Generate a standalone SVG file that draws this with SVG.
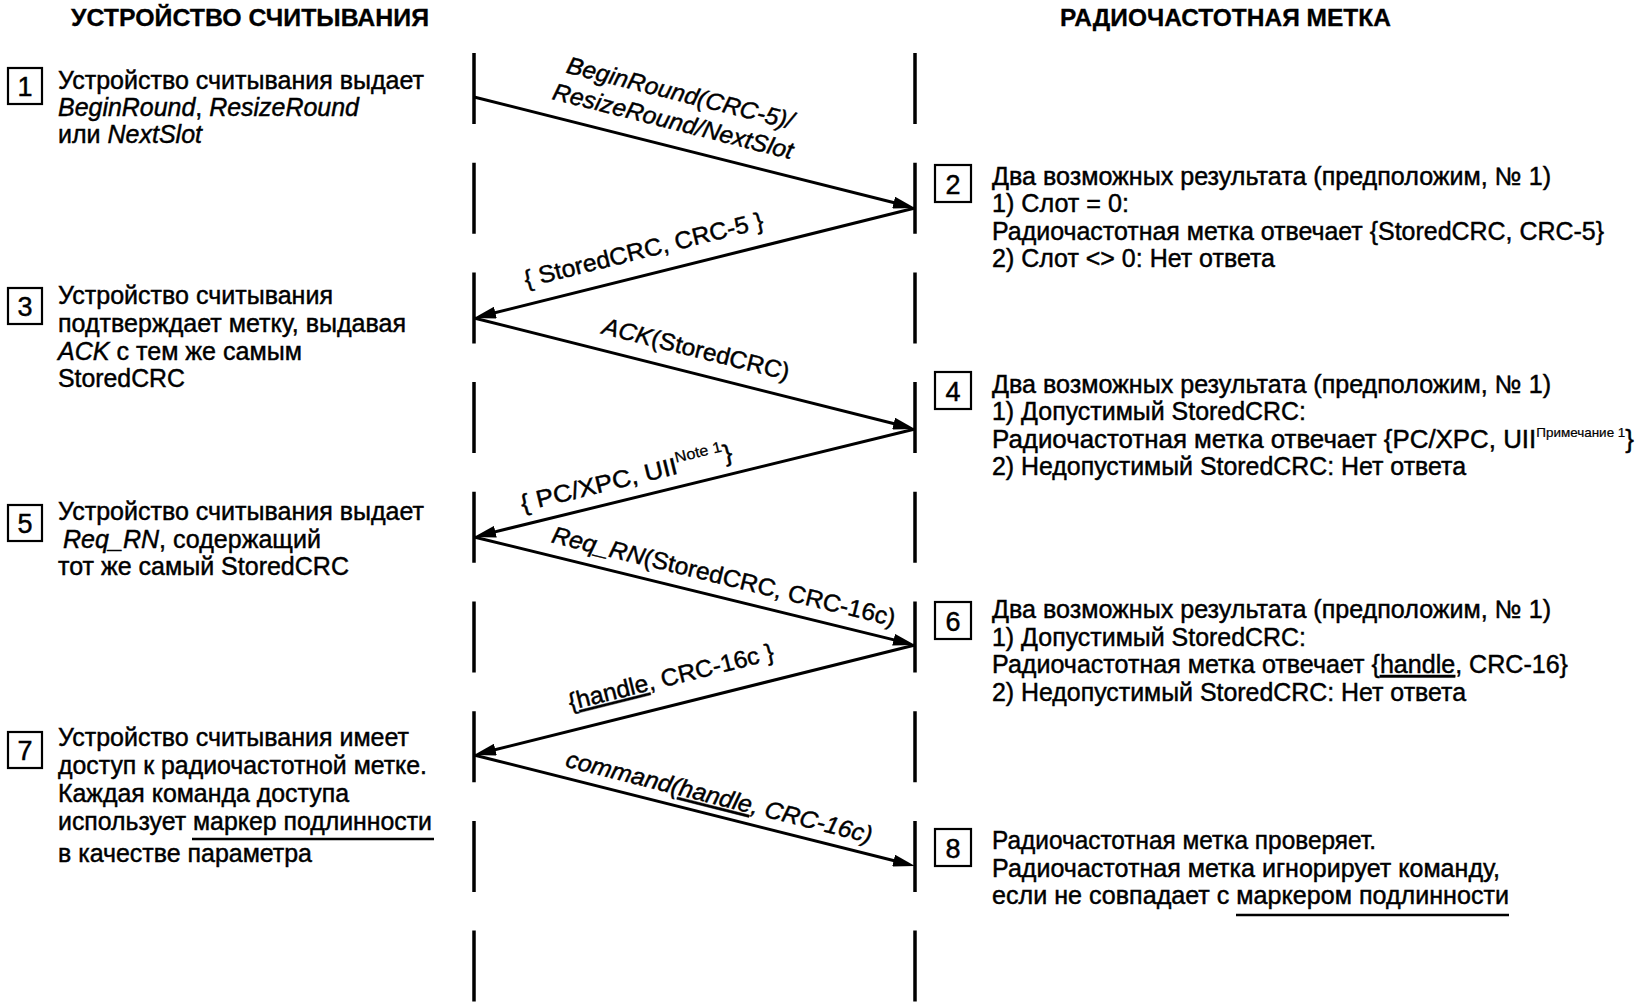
<svg xmlns="http://www.w3.org/2000/svg" width="1642" height="1005" viewBox="0 0 1642 1005">
<style>
.t{font-family:"Liberation Sans",Arial,sans-serif;font-size:25px;fill:#000;stroke:#000;stroke-width:0.45px}
.h{font-weight:bold;font-size:24.5px;stroke-width:0.3px}
.i{font-style:italic}
.box{fill:none;stroke:#000;stroke-width:2.2}
.num{font-size:27px;text-anchor:middle}
.life{stroke:#000;stroke-width:3.5;stroke-dasharray:71 38.7;fill:none}
.msg{stroke:#000;stroke-width:3;fill:none;marker-end:url(#ah)}
.lbl{font-size:24px;text-anchor:middle}
.ul{stroke:#000;stroke-width:2.5}
.u{text-decoration:underline}
</style>
<defs>
<marker id="ah" markerUnits="userSpaceOnUse" markerWidth="22" markerHeight="12" viewBox="0 0 22 12" refX="12" refY="6" orient="auto">
<path d="M0,0 L22,6 L0,12 Z" fill="#000"/>
</marker>
</defs>
<rect width="1642" height="1005" fill="#fff"/>

<g id="header-reader"><text class="t h" x="71" y="26" textLength="358" lengthAdjust="spacingAndGlyphs">УСТРОЙСТВО СЧИТЫВАНИЯ</text></g>
<g id="header-tag"><text class="t h" x="1060" y="26" textLength="331" lengthAdjust="spacingAndGlyphs">РАДИОЧАСТОТНАЯ МЕТКА</text></g>

<g id="lifeline-reader"><line class="life" x1="474" y1="53" x2="474" y2="1003"/></g>
<g id="lifeline-tag"><line class="life" x1="915" y1="53" x2="915" y2="1003"/></g>

<g id="node1">
<rect class="box" x="8" y="68" width="34" height="36"/>
<text class="t num" x="25" y="96">1</text>
<text class="t" x="58" y="89" textLength="366" lengthAdjust="spacingAndGlyphs">Устройство считывания выдает</text>
<text class="t" x="58" y="116" textLength="301" lengthAdjust="spacingAndGlyphs"><tspan class="i">BeginRound</tspan>, <tspan class="i">ResizeRound</tspan></text>
<text class="t" x="58" y="143" textLength="144" lengthAdjust="spacingAndGlyphs">или <tspan class="i">NextSlot</tspan></text>
</g>

<g id="node2">
<rect class="box" x="935" y="165" width="36" height="37"/>
<text class="t num" x="953" y="194">2</text>
<text class="t" x="992" y="185" textLength="559" lengthAdjust="spacingAndGlyphs">Два возможных результата (предположим, № 1)</text>
<text class="t" x="992" y="212" textLength="137" lengthAdjust="spacingAndGlyphs">1) Слот = 0:</text>
<text class="t" x="992" y="239.5" textLength="612" lengthAdjust="spacingAndGlyphs">Радиочастотная метка отвечает {StoredCRC, CRC-5}</text>
<text class="t" x="992" y="267" textLength="283" lengthAdjust="spacingAndGlyphs">2) Слот &lt;&gt; 0: Нет ответа</text>
</g>

<g id="node3">
<rect class="box" x="8" y="288" width="34" height="36"/>
<text class="t num" x="25" y="316">3</text>
<text class="t" x="58" y="304" textLength="275" lengthAdjust="spacingAndGlyphs">Устройство считывания</text>
<text class="t" x="58" y="332" textLength="348" lengthAdjust="spacingAndGlyphs">подтверждает метку, выдавая</text>
<text class="t" x="58" y="360" textLength="244" lengthAdjust="spacingAndGlyphs"><tspan class="i">ACK</tspan> с тем же самым</text>
<text class="t" x="58" y="387" textLength="127" lengthAdjust="spacingAndGlyphs">StoredCRC</text>
</g>

<g id="node4">
<rect class="box" x="935" y="372" width="36" height="37"/>
<text class="t num" x="953" y="401">4</text>
<text class="t" x="992" y="393" textLength="559" lengthAdjust="spacingAndGlyphs">Два возможных результата (предположим, № 1)</text>
<text class="t" x="992" y="420" textLength="314" lengthAdjust="spacingAndGlyphs">1) Допустимый StoredCRC:</text>
<text class="t" x="992" y="448" textLength="642" lengthAdjust="spacingAndGlyphs">Радиочастотная метка отвечает {PC/XPC, UII<tspan font-size="13" stroke-width="0.2" dy="-11">Примечание 1</tspan><tspan dy="11">}</tspan></text>
<text class="t" x="992" y="475" textLength="474" lengthAdjust="spacingAndGlyphs">2) Недопустимый StoredCRC: Нет ответа</text>
</g>

<g id="node5">
<rect class="box" x="8" y="505" width="34" height="36"/>
<text class="t num" x="25" y="533">5</text>
<text class="t" x="58" y="520" textLength="366" lengthAdjust="spacingAndGlyphs">Устройство считывания выдает</text>
<text class="t" x="63" y="548" textLength="258" lengthAdjust="spacingAndGlyphs"><tspan class="i">Req_RN</tspan>, содержащий</text>
<text class="t" x="58" y="575" textLength="291" lengthAdjust="spacingAndGlyphs">тот же самый StoredCRC</text>
</g>

<g id="node6">
<rect class="box" x="935" y="602" width="36" height="37"/>
<text class="t num" x="953" y="631">6</text>
<text class="t" x="992" y="618" textLength="559" lengthAdjust="spacingAndGlyphs">Два возможных результата (предположим, № 1)</text>
<text class="t" x="992" y="646" textLength="314" lengthAdjust="spacingAndGlyphs">1) Допустимый StoredCRC:</text>
<text class="t" x="992" y="673" textLength="576" lengthAdjust="spacingAndGlyphs">Радиочастотная метка отвечает {<tspan class="u">handle</tspan>, CRC-16}</text>
<text class="t" x="992" y="701" textLength="474" lengthAdjust="spacingAndGlyphs">2) Недопустимый StoredCRC: Нет ответа</text>
</g>

<g id="node7">
<rect class="box" x="8" y="732" width="34" height="36"/>
<text class="t num" x="25" y="760">7</text>
<text class="t" x="58" y="746" textLength="351" lengthAdjust="spacingAndGlyphs">Устройство считывания имеет</text>
<text class="t" x="58" y="774" textLength="369" lengthAdjust="spacingAndGlyphs">доступ к радиочастотной метке.</text>
<text class="t" x="58" y="802" textLength="291" lengthAdjust="spacingAndGlyphs">Каждая команда доступа</text>
<text class="t" x="58" y="830" textLength="374" lengthAdjust="spacingAndGlyphs">использует маркер подлинности</text>
<line class="ul" x1="192" y1="839" x2="434" y2="839"/>
<text class="t" x="58" y="862" textLength="254" lengthAdjust="spacingAndGlyphs">в качестве параметра</text>
</g>

<g id="node8">
<rect class="box" x="935" y="829" width="36" height="37"/>
<text class="t num" x="953" y="858">8</text>
<text class="t" x="992" y="849" textLength="384" lengthAdjust="spacingAndGlyphs">Радиочастотная метка проверяет.</text>
<text class="t" x="992" y="877" textLength="508" lengthAdjust="spacingAndGlyphs">Радиочастотная метка игнорирует команду,</text>
<text class="t" x="992" y="904" textLength="517" lengthAdjust="spacingAndGlyphs">если не совпадает с маркером подлинности</text>
<line class="ul" x1="1236" y1="915" x2="1509" y2="915"/>
</g>

<g id="connectors">
<line class="msg" x1="474" y1="97" x2="905.3" y2="205.5"/>
<line class="msg" x1="915" y1="208" x2="483.7" y2="315.5"/>
<line class="msg" x1="474" y1="318" x2="905.3" y2="426.5"/>
<line class="msg" x1="915" y1="429" x2="483.7" y2="534.6"/>
<line class="msg" x1="474" y1="537" x2="905.3" y2="642.6"/>
<line class="msg" x1="915" y1="645" x2="483.7" y2="752.5"/>
<line class="msg" x1="474" y1="755" x2="905.3" y2="863.5"/>

<g transform="translate(474,97) rotate(14.13)">
<text class="t lbl i" x="199" y="-46" textLength="233" lengthAdjust="spacingAndGlyphs">BeginRound(CRC-5)/</text>
<text class="t lbl i" x="199" y="-17" textLength="247" lengthAdjust="spacingAndGlyphs">ResizeRound/NextSlot</text>
</g>
<g transform="translate(474,318) rotate(-14)">
<text class="t lbl" x="181" y="-17" textLength="246" lengthAdjust="spacingAndGlyphs">{ StoredCRC, CRC-5 }</text>
</g>
<g transform="translate(474,318) rotate(14.13)">
<text class="t lbl" x="223" y="-16" textLength="192" lengthAdjust="spacingAndGlyphs"><tspan class="i">ACK</tspan>(StoredCRC)</text>
</g>
<g transform="translate(474,537) rotate(-13.76)">
<text class="t lbl" x="162" y="-13" textLength="217" lengthAdjust="spacingAndGlyphs">{ PC/XPC, UII<tspan font-size="15" stroke-width="0.25" dy="-11">Note 1</tspan><tspan dy="11">}</tspan></text>
</g>
<g transform="translate(474,537) rotate(13.76)">
<text class="t lbl" x="252" y="-13" textLength="353" lengthAdjust="spacingAndGlyphs"><tspan class="i">Req_RN</tspan>(StoredCRC, CRC-16c)</text>
</g>
<g transform="translate(474,755) rotate(-14)">
<text class="t lbl" x="210" y="-20" textLength="211" lengthAdjust="spacingAndGlyphs">{<tspan class="u">handle</tspan>, CRC-16c }</text>
</g>
<g transform="translate(474,755) rotate(14.13)">
<text class="t lbl i" x="248" y="-11" textLength="315" lengthAdjust="spacingAndGlyphs">command(<tspan class="u">handle</tspan>, CRC-16c)</text>
</g>
</g>
</svg>
